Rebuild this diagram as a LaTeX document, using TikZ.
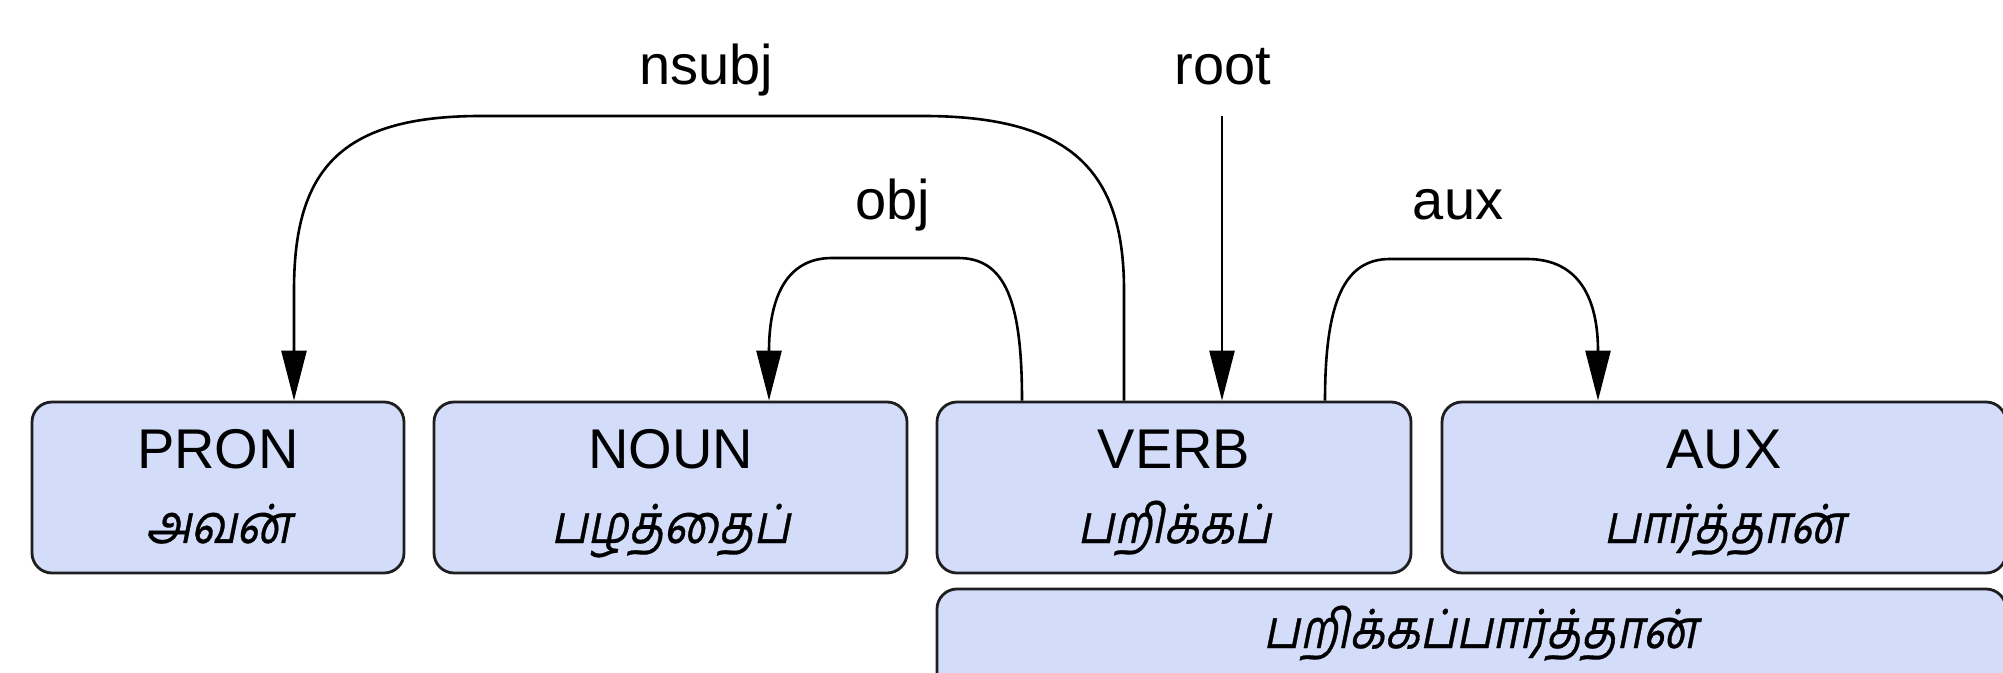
\documentclass[tikz,border=0pt]{standalone}
\usepackage{fontspec}
\setmainfont{Liberation Sans}
\newfontfamily\tamil[Script=Tamil,FakeSlant=0.2,FakeStretch=0.85,FakeBold=0.6]{Hind Madurai}
\usetikzlibrary{arrows.meta,calc}
\definecolor{boxfill}{RGB}{211,221,250}
\definecolor{boxline}{RGB}{30,30,30}
\begin{document}
\begin{tikzpicture}[x=0.5pt,y=-0.5pt,
  box/.style={draw=boxline, fill=boxfill, line width=1.4pt, rounded corners=10pt,
    rectangle, inner sep=0pt, minimum height=85.5pt},
  lab/.style={font=\fontsize{28}{30}\selectfont, anchor=base, inner sep=0pt},
  tam/.style={font=\fontsize{27}{30}\selectfont\tamil, anchor=base, inner sep=0pt},
  arc/.style={line width=1.3pt, draw=black, -{Triangle[length=25pt,width=12.5pt]}}]
\useasboundingbox (0,0) rectangle (2003,673);
\clip (0,0) rectangle (2003,673);
\fill[white] (0,0) rectangle (2003,673);
% boxes
\node[box, minimum width=186pt]   (pron) at (218,487.5) {};
\node[box, minimum width=236.5pt] (noun) at (670.5,487.5) {};
\node[box, minimum width=237pt]   (verb) at (1174,487.5) {};
\node[box, minimum width=282pt]   (aux)  at (1724,487.5) {};
\node[box, minimum width=534.5pt] (word) at (1471.5,674.5) {};
% texts
\node[lab] (tpron) at (218,469) {PRON};
\node[tam] (wpron) at (218,543) {அவன்};
\node[lab] (tnoun) at (670.5,469) {NOUN};
\node[tam] (wnoun) at (670.5,543) {பழத்தைப்};
\node[lab] (tverb) at (1174,469) {VERB};
\node[tam] (wverb) at (1174,543) {பறிக்கப்};
\node[lab] (taux) at (1724,469) {AUX};
\node[tam] (waux) at (1724,543) {பார்த்தான்};
\node[tam] (wword) at (1480,648) {பறிக்கப்பார்த்தான்};
% labels
\node[lab] (lnsubj) at (706,85) {nsubj};
\node[lab] (lroot) at (1223,85) {root};
\node[lab] (lobj) at (893,220) {obj};
\node[lab] (laux) at (1458,220) {aux};
% connectors
\coordinate (roottop) at (1222,116);
\draw[arc] ([xshift=-25pt]verb.north) -- (1124,290) .. controls (1124,170) and (1070,116) .. (923,116)
  -- (481,116) .. controls (340,116) and (294,170) .. (294,290) -- ([xshift=38pt]pron.north);
\draw[arc] ([xshift=-76pt]verb.north) .. controls (1022,300) and (1005,258) .. (958,258)
  -- (832,258) .. controls (785,258) and (769,300) .. ([xshift=49.25pt]noun.north);
\draw[arc] (roottop) -- ([xshift=24pt]verb.north);
\draw[arc] ([xshift=75.5pt]verb.north) .. controls (1325,300) and (1345,259) .. (1390,259)
  -- (1527,259) .. controls (1580,259) and (1598,300) .. ([xshift=-63pt]aux.north);
\end{tikzpicture}
\end{document}
